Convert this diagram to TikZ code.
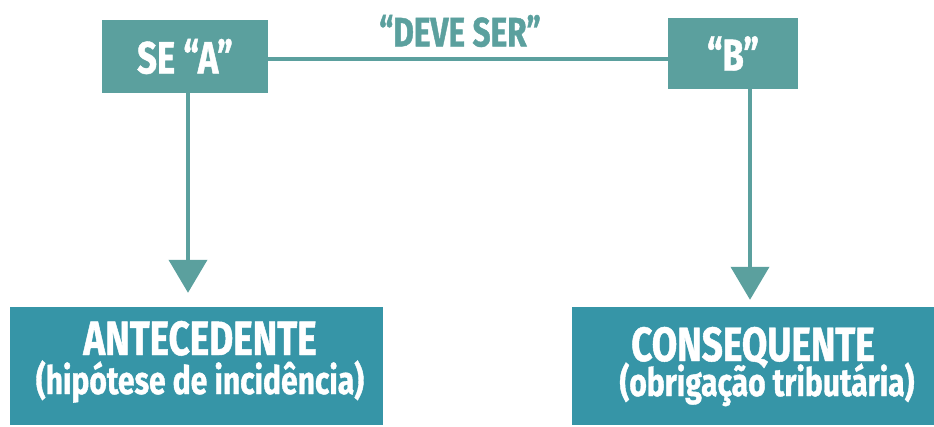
\documentclass[tikz,border=0pt]{standalone}
\usepackage{fontspec}
\newfontfamily\condfont[FakeStretch=0.77, FakeBold=1]{Fira Sans}
\usepackage{xcolor}
\usetikzlibrary{arrows.meta,positioning}

\definecolor{topteal}{RGB}{91,160,158}
\definecolor{lowteal}{RGB}{54,149,167}
\newcommand{\fsz}[1]{\fontsize{#1}{#1}\selectfont}

\begin{document}
\begin{tikzpicture}[x=1pt, y=-1pt,
  >={Triangle[width=38pt,length=33pt]},
  every node/.style={inner sep=0pt, text=white},
  topbox/.style={rectangle, fill=topteal, font=\condfont\bfseries\fsz{45}},
  lowbox/.style={rectangle, fill=lowteal, minimum height=118pt},
  bigtxt/.style={anchor=base, text depth=0pt, font=\condfont\bfseries\fsz{48}},
  smalltxt/.style={anchor=base, font=\condfont\bfseries\fsz{39}},
  link/.style={draw=topteal, line width=4pt}
]
\useasboundingbox (0,0) rectangle (934,426);

% Top row - norm structure
\node[topbox, minimum width=166pt, minimum height=73pt] (seA) at (185,56.5) {SE “A”};
\node[topbox, minimum width=130pt, minimum height=71pt] (bB) at (733,53.5) {“B”};
\node[font=\condfont\bfseries\fsz{41}, text=topteal] (devese) at (460,31) {“DEVE SER”};

% Bottom row - antecedent and consequent
\node[lowbox, minimum width=373pt] (ante) at (196.5,366) {};
\node[lowbox, minimum width=362pt] (cons) at (753,366) {};

% Texts inside the bottom boxes
\node[bigtxt] (antetitle) at (200,355) {ANTECEDENTE};
\node[smalltxt] (antesub) at (200,394) {(hipótese de incidência)};
\node[bigtxt] (constitle) at (753,361) {CONSEQUENTE};
\node[smalltxt] (conssub) at (767,396) {(obrigação tributária)};

% Link - "deve ser"
\draw[link] ([yshift=-2.5pt]seA.east) -- ([yshift=-5.5pt]bB.west);

% Arrows - top boxes down to bottom boxes
\draw[link, ->, shorten >=14pt] ([xshift=3pt]seA.south) -- ([xshift=3pt]seA.south |- ante.north);
\draw[link, ->, shorten >=7pt] ([xshift=17pt]bB.south) -- ([xshift=17pt]bB.south |- cons.north);

\end{tikzpicture}
\end{document}
